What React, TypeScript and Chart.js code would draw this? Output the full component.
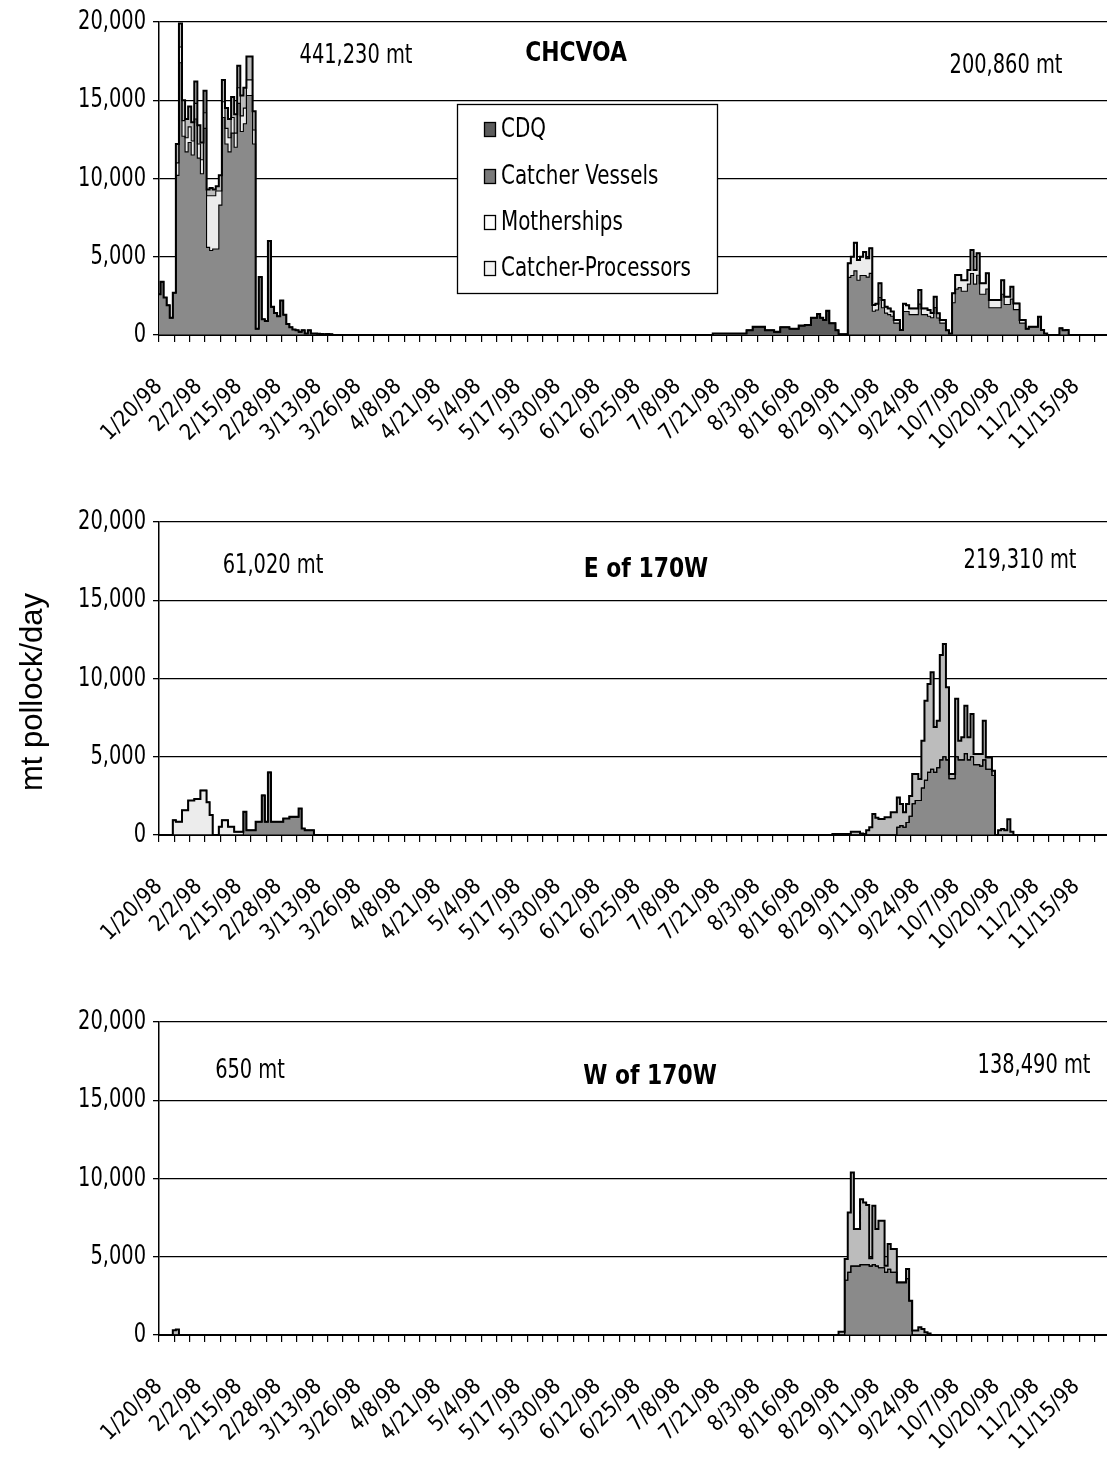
import React, { useEffect, useRef } from 'react';
import { Chart, registerables } from 'chart.js';

Chart.register(...registerables);

// ---------- data ----------
const DAY_COUNT = 310; // daily categories starting 1/20/98
const TICK_EVERY = 13;
const TICK_LABELS = [
  '1/20/98', '2/2/98', '2/15/98', '2/28/98', '3/13/98', '3/26/98', '4/8/98', '4/21/98',
  '5/4/98', '5/17/98', '5/30/98', '6/12/98', '6/25/98', '7/8/98', '7/21/98', '8/3/98',
  '8/16/98', '8/29/98', '9/11/98', '9/24/98', '10/7/98', '10/20/98', '11/2/98', '11/15/98',
];
const SERIES_NAMES = ['CDQ', 'Catcher Vessels', 'Motherships', 'Catcher-Processors'];
const SERIES_COLORS = ['#5c5c5c', '#8a8a8a', '#ececec', '#bcbcbc'];
const LEGEND_COLORS = ['#5c5c5c', '#7a7a7a', '#ffffff', '#f4f4f4'];

type Seg = [number, number[]]; // [first day index, daily mt values]

// CHCVOA
const CHCVOA_CDQ: Seg[] = [
  [181, [100, 100, 100, 100, 100, 100, 100, 100, 100, 100, 100, 300, 300, 530, 530, 530, 530, 300, 300, 300, 200, 200, 500, 500, 500, 400, 400, 400, 600, 600, 640, 640, 1100, 1100, 1340, 1100, 960, 1550, 750, 750, 300, 50, 50, 50]],
];
const CHCVOA_CV: Seg[] = [
  [0, [2600, 3400, 2400, 1900, 1100, 2700, 10200, 17400, 12700, 11700, 12300, 11500, 13800, 11300, 10300, 13200, 5600, 5400, 5500, 5500, 8300, 13900, 12200, 11700, 12900, 12000, 14800, 13000, 13500, 15300, 15300, 12200, 400, 3700, 1000, 900, 6000, 1800, 1400, 1200, 2200, 1300, 700, 500, 350, 300, 200, 300, 100, 300, 100, 100, 80, 60, 50, 60, 40]],
  [225, [3680, 3800, 4100, 3500, 3800, 3800, 3700, 3940, 1520, 1600, 2400, 1740, 1400, 1300, 1200, 760, 760, 320, 1500, 1500, 1300, 1300, 1300, 1970, 1300, 1300, 1200, 1100, 1750, 1090, 760, 760, 300, 100, 2060, 2930, 3030, 2800, 2800, 3250, 3930, 3250, 3820, 2600, 2600, 2940, 1740, 1740, 1740, 1740, 2600, 1950, 1950, 2290, 1620, 1620, 760, 760, 400, 530, 530, 530, 1170, 320, 100, 0, 0, 0, 0, 430, 300, 320]],
];
const CHCVOA_MS: Seg[] = [
  [6, [800, 1000, 1000, 900, 1000, 900, 1000, 900, 900, 1000, 3300, 3500, 3400, 3700, 900, 1000, 1000, 900, 1000, 900, 1000, 1000, 1000, 1000, 1000, 900]],
  [225, [900, 1200, 1800, 1300, 1200, 1500, 1200, 1600, 400, 400, 900, 500, 400, 400, 300, 200, 200, 0, 500, 400, 400, 400, 400, 900, 400, 400, 400, 300, 700, 300, 200, 200, 0, 0, 600, 900, 800, 700, 700, 900, 1500, 900, 1400, 700, 700, 1000, 500, 500, 500, 500, 900, 500, 500, 800, 400, 400, 200, 200]],
];
const CHCVOA_CP: Seg[] = [
  [6, [1200, 1500, 1300, 1200, 1300, 1200, 1400, 1200, 1100, 1400, 400, 500, 400, 300, 1000, 1400, 1300, 1200, 1300, 1200, 1400, 1300, 1300, 1500, 1500, 1200]],
];

// E of 170W
const EAST_CDQ: Seg[] = [];
const EAST_CV: Seg[] = [
  [28, [1480, 300, 300, 300, 850, 850, 2530, 850, 4000, 850, 850, 850, 850, 1050, 1050, 1160, 1160, 1160, 1690, 420, 300, 300, 300]],
  [241, [500, 600, 500, 800, 1200, 2000, 2200, 2200, 3000, 3500, 4000, 4200, 4000, 4300, 4800, 5000, 4800, 3600, 3600, 5000, 4800, 4800, 5200, 4800, 5000, 4500, 4500, 4400, 4800, 4200, 4200, 3800]],
];
const EAST_MS: Seg[] = [
  [5, [950, 850, 850, 1580, 1580, 2200, 2200, 2300, 2300, 2850, 2850, 2100, 1270, 0, 0, 530, 950, 950, 530, 530, 200, 200, 200]],
];
const EAST_CP: Seg[] = [
  [220, [60, 60, 60, 60, 60, 60, 200, 200, 200, 100, 60, 300, 500, 1340, 1100, 1020, 1020, 1130, 1130, 1450, 1450, 1900, 1380, 950, 1180, 1300, 1900, 1700, 1380, 3030, 5080, 5650, 6200, 2900, 3000, 6700, 7200, 4640, 300, 300, 3700, 1230, 1440, 3060, 1440, 2730, 680, 680, 780, 2500, 760, 760, 310, 0, 300, 380, 300, 1000, 200]],
];

// W of 170W
const WEST_CDQ: Seg[] = [];
const WEST_CV: Seg[] = [
  [224, [3500, 4000, 4400, 4400, 4400, 4500, 4500, 4500, 4400, 4500, 4400, 4300, 4300, 4000, 4200, 4000, 4000, 3360, 3360, 3360, 3600, 2190]],
];
const WEST_MS: Seg[] = [];
const WEST_CP: Seg[] = [
  [5, [300, 350]],
  [222, [200, 200, 1350, 3830, 5980, 2370, 2370, 4180, 3970, 3800, 500, 3760, 2370, 3000, 3000, 430, 1610, 1490, 1490, 0, 0, 0, 610, 0, 280, 280, 490, 380, 170, 100]],
];

const PANEL_TITLES = ['CHCVOA', 'E of 170W', 'W of 170W'];
const PANEL_LEFT_TOTALS = ['441,230 mt', '61,020 mt', '650 mt'];
const PANEL_RIGHT_TOTALS = ['200,860 mt', '219,310 mt', '138,490 mt'];
const Y_TICKS = [0, 5000, 10000, 15000, 20000];

// ---------- layout ----------
const NARROW = "'Liberation Sans Narrow', 'Arial Narrow', 'DejaVu Sans Condensed', 'Liberation Sans', sans-serif";
const REGULAR = "'Liberation Sans', Arial, sans-serif";
const PLOT_LEFT = 159;
const PLOT_TOP = 22;
const PLOT_BOTTOM = 335;

type PanelDef = {
  series: Seg[][];
  height: number;
  leftPos: [number, number];
  titlePos: [number, number];
  rightPos: [number, number];
  legend: boolean;
  yTitle: boolean;
};

const PANELS: PanelDef[] = [
  { series: [CHCVOA_CDQ, CHCVOA_CV, CHCVOA_MS, CHCVOA_CP], height: 500, leftPos: [356, 56], titlePos: [576, 54], rightPos: [1006, 66], legend: true, yTitle: false },
  { series: [EAST_CDQ, EAST_CV, EAST_MS, EAST_CP], height: 500, leftPos: [273, 66], titlePos: [646, 70], rightPos: [1020, 61], legend: false, yTitle: true },
  { series: [WEST_CDQ, WEST_CV, WEST_MS, WEST_CP], height: 461, leftPos: [250, 71], titlePos: [650, 77], rightPos: [1034, 66], legend: false, yTitle: false },
];

function expand(segs: Seg[]): number[] {
  const out = new Array(DAY_COUNT).fill(0);
  segs.forEach(([start, vals]) => vals.forEach((v, i) => { if (start + i < DAY_COUNT) out[start + i] = v; }));
  return out;
}

function drawText(
  ctx: CanvasRenderingContext2D, text: string, x: number, y: number,
  font: string, sx: number, align: CanvasTextAlign,
) {
  ctx.save();
  ctx.translate(x, y);
  ctx.scale(sx, 1);
  ctx.font = font;
  ctx.textAlign = align;
  ctx.textBaseline = 'middle';
  ctx.fillStyle = '#000';
  ctx.fillText(text, 0, 0);
  ctx.restore();
}

function Panel({ def, index }: { def: PanelDef; index: number }) {
  const ref = useRef<HTMLCanvasElement | null>(null);
  useEffect(() => {
    if (!ref.current) return;
    const labels = Array.from({ length: DAY_COUNT }, (_, i) => String(i));
    const textPlugin = {
      id: 'panelText' + index,
      afterDraw(chart: any) {
        const ctx = chart.ctx as CanvasRenderingContext2D;
        const yScale = chart.scales.y;
        ctx.save();
        Y_TICKS.forEach((v) => {
          drawText(ctx, v.toLocaleString('en-US'), 146, yScale.getPixelForValue(v), `27px ${NARROW}`, 0.8, 'right');
        });
        drawText(ctx, PANEL_LEFT_TOTALS[index], def.leftPos[0], def.leftPos[1], `26px ${NARROW}`, 0.83, 'center');
        drawText(ctx, PANEL_RIGHT_TOTALS[index], def.rightPos[0], def.rightPos[1], `26px ${NARROW}`, 0.83, 'center');
        drawText(ctx, PANEL_TITLES[index], def.titlePos[0], def.titlePos[1], `bold 27px ${NARROW}`, 0.9, 'center');
        if (def.yTitle) {
          ctx.save();
          ctx.translate(33, 192);
          ctx.rotate(-Math.PI / 2);
          ctx.font = `31px ${REGULAR}`;
          ctx.textAlign = 'center';
          ctx.textBaseline = 'middle';
          ctx.fillStyle = '#000';
          ctx.fillText('mt pollock/day', 0, 0);
          ctx.restore();
        }
        if (def.legend) {
          const bx = 457.5, by = 104.5, bw = 260, bh = 189;
          ctx.fillStyle = '#fff';
          ctx.fillRect(bx, by, bw, bh);
          ctx.strokeStyle = '#000';
          ctx.lineWidth = 1.3;
          ctx.strokeRect(bx, by, bw, bh);
          const rows = [130, 177, 223, 269];
          SERIES_NAMES.forEach((name, i) => {
            const y = rows[i];
            ctx.fillStyle = LEGEND_COLORS[i];
            ctx.fillRect(484.5, y - 7.5, 11, 14);
            ctx.strokeStyle = '#000';
            ctx.lineWidth = 1.3;
            ctx.strokeRect(484.5, y - 7.5, 11, 14);
            drawText(ctx, name, 501, y, `27px ${NARROW}`, 0.82, 'left');
          });
        }
        ctx.restore();
      },
    };
    const chart = new Chart(ref.current, {
      type: 'line',
      data: {
        labels,
        datasets: SERIES_NAMES.map((name, i) => ({
          label: name,
          data: expand(def.series[i]),
          backgroundColor: SERIES_COLORS[i],
          borderColor: '#000',
          borderWidth: i === 3 ? 2 : 1.1,
          fill: i === 0 ? 'origin' : '-1',
          stepped: 'middle' as const,
          pointRadius: 0,
          pointHoverRadius: 0,
        })),
      },
      options: {
        responsive: false,
        animation: false,
        events: [],
        layout: { padding: { top: PLOT_TOP, left: 0, right: 0, bottom: 0 } },
        plugins: {
          legend: { display: false },
          tooltip: { enabled: false },
          filler: { drawTime: 'beforeDatasetsDraw' },
        } as any,
        scales: {
          x: {
            type: 'category',
            offset: false,
            border: { display: true, color: '#000', width: 2 },
            grid: {
              display: true,
              drawOnChartArea: false,
              drawTicks: true,
              tickLength: 7,
              lineWidth: 1.2,
              color: (c: any) => (c.index % 5 === 0 ? '#000' : 'rgba(0,0,0,0)'),
            },
            ticks: {
              autoSkip: false,
              maxRotation: 45,
              minRotation: 45,
              padding: 32,
              color: '#000',
              font: { family: NARROW, size: 22 },
              callback: (_v: any, i: number) =>
                i % TICK_EVERY === 0 && TICK_LABELS[i / TICK_EVERY] ? TICK_LABELS[i / TICK_EVERY] : '',
            },
            afterFit: (s: any) => {
              s.height = def.height - PLOT_BOTTOM;
              s.paddingLeft = 0;
              s.paddingRight = 0;
            },
          },
          y: {
            stacked: true,
            min: 0,
            max: 20000,
            afterBuildTicks: (s: any) => { s.ticks = Y_TICKS.map((v) => ({ value: v })); },
            border: { display: true, color: '#000', width: 1.5 },
            grid: { color: '#000', lineWidth: 1.3, drawTicks: true, tickLength: 6 },
            ticks: { display: false },
            afterFit: (s: any) => { s.width = PLOT_LEFT; },
          },
        },
      } as any,
      plugins: [textPlugin],
    });
    return () => chart.destroy();
  }, [def, index]);
  return (
    <canvas
      ref={ref}
      width={1107}
      height={def.height}
      style={{ position: 'absolute', left: 0, top: index * 500, display: 'block' }}
    />
  );
}

export default function App() {
  useEffect(() => {
    document.body.style.margin = '0';
    document.body.style.background = '#fff';
  }, []);
  return (
    <div style={{ position: 'relative', width: 1107, height: 1461, background: '#fff', overflow: 'hidden' }}>
      {PANELS.map((p, i) => (
        <Panel key={i} def={p} index={i} />
      ))}
    </div>
  );
}
